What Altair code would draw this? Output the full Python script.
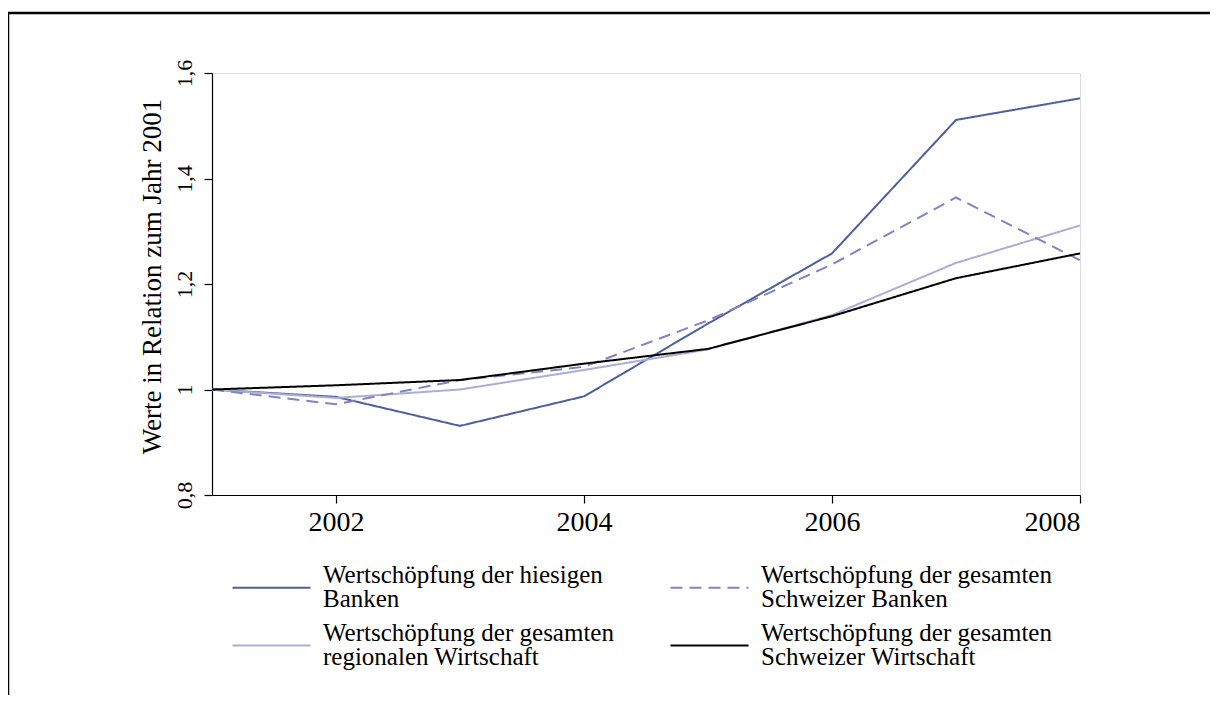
import altair as alt
import pandas as pd

years = [2001, 2002, 2003, 2004, 2005, 2006, 2007, 2008]
s_hiesig = [1.0, 0.986, 0.931, 0.987, 1.125, 1.258, 1.511, 1.552]
s_ch_banken = [1.0, 0.972, 1.018, 1.043, 1.131, 1.237, 1.364, 1.245]
s_regional = [1.0, 0.984, 1.0, 1.037, 1.076, 1.141, 1.240, 1.311]
s_ch_wirtschaft = [1.0, 1.008, 1.018, 1.049, 1.077, 1.139, 1.211, 1.258]

# legend order (filled column by column)
series_names = [
    "Wertschöpfung der hiesigen|Banken",
    "Wertschöpfung der gesamten|regionalen Wirtschaft",
    "Wertschöpfung der gesamten|Schweizer Banken",
    "Wertschöpfung der gesamten|Schweizer Wirtschaft",
]
series_values = [s_hiesig, s_regional, s_ch_banken, s_ch_wirtschaft]
colors = ["#4e5f9f", "#aaaed6", "#8282c4", "#000000"]
dashes = [[1, 0], [1, 0], [12, 7], [1, 0]]
draw_order = [1, 0, 2, 3]
y_ticks = [0.8, 1.0, 1.2, 1.4, 1.6]
x_ticks = [2002, 2004, 2006, 2008]

rows = []
for name, vals, o in zip(series_names, series_values, draw_order):
    for yr, v in zip(years, vals):
        rows.append({"Jahr": yr, "Wert": v, "Serie": name, "ord": o})
df = pd.DataFrame(rows)

FONT = "Liberation Serif"

def make_legend():
    return alt.Legend(title=None, orient="none", legendX=47, legendY=502,
                      direction="vertical",
                      columns=2, columnPadding=52, rowPadding=8,
                      symbolType="M-10,0H10", symbolSize=60.84,
                      symbolStrokeWidth=2, labelOffset=39,
                      labelFont=FONT, labelFontSize=25, labelColor="black",
                      labelBaseline="bottom",
                      labelLimit=0,
                      labelExpr="split(datum.label, '|')")

lines = alt.Chart(df).mark_line(strokeWidth=2, clip=False).encode(
    x=alt.X("Jahr:Q",
            scale=alt.Scale(domain=[2001, 2008], nice=False, zero=False),
            axis=alt.Axis(values=x_ticks, format="d", title=None, grid=False,
                          labelFont=FONT, labelFontSize=28, labelColor="black",
                          domainColor="black", tickColor="black",
                          domainWidth=1.2, tickWidth=1.2, tickSize=8,
                          labelPadding=5)),
    y=alt.Y("Wert:Q",
            scale=alt.Scale(domain=[0.8, 1.6], nice=False, zero=False),
            axis=alt.Axis(values=y_ticks, title="Werte in Relation zum Jahr 2001",
                          grid=False,
                          labelExpr="replace(toString(datum.value), '.', ',')",
                          labelAngle=270, labelAlign="center", labelBaseline="bottom",
                          labelFont=FONT, labelFontSize=22, labelColor="black",
                          labelPadding=8,
                          titleFont=FONT, titleFontSize=27, titleFontWeight="normal",
                          titleColor="black", titlePadding=7, titleY=203,
                          domainColor="black", tickColor="black",
                          domainWidth=1.2, tickWidth=1.2, tickSize=8)),
    color=alt.Color("Serie:N",
                    scale=alt.Scale(domain=series_names, range=colors),
                    sort=series_names,
                    legend=make_legend()),
    strokeDash=alt.StrokeDash("Serie:N",
                              scale=alt.Scale(domain=series_names, range=dashes),
                              sort=series_names,
                              legend=make_legend()),
    order=alt.Order("ord:Q"),
)

frame_df = pd.DataFrame({"k": [0]})
frame_v = alt.Chart(frame_df).mark_rule(color="black", strokeWidth=2.5).encode(
    x=alt.value(-204), y=alt.value(-60), y2=alt.value(640))
frame_h = alt.Chart(frame_df).mark_rule(color="black", strokeWidth=2.5).encode(
    x=alt.value(-205), x2=alt.value(1010), y=alt.value(-60))

chart = alt.layer(lines, frame_v, frame_h).properties(
    width=868, height=422,
    autosize=alt.AutoSizeParams(type="none"),
    padding={"left": 204, "top": 65, "right": 130, "bottom": 200},
    background="white",
).configure_view(stroke=None).configure(style={"guide-label": {"lineHeight": 24}})

chart.save("out.html", embed_options={"renderer": "svg", "actions": False})
